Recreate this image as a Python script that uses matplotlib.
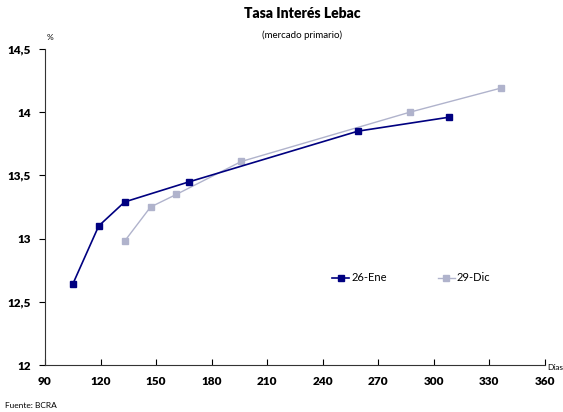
import matplotlib
matplotlib.use("Agg")
import matplotlib.pyplot as plt
from matplotlib.ticker import FuncFormatter

plt.rcParams['font.family'] = ['Lato', 'DejaVu Sans']

ene_days = [105, 119, 133, 168, 259, 308]
ene_rate = [12.64, 13.10, 13.29, 13.45, 13.85, 13.96]
dic_days = [133, 147, 161, 196, 287, 336]
dic_rate = [12.98, 13.25, 13.35, 13.61, 14.00, 14.19]
xticks = [90, 120, 150, 180, 210, 240, 270, 300, 330, 360]
yticks = [12, 12.5, 13, 13.5, 14, 14.5]

fig = plt.figure(figsize=(5.63, 4.12), dpi=100)
ax = fig.add_axes([45/563, 1-365/412, 500/563, (365-49)/412])

ax.plot(ene_days, ene_rate, color='#000080', lw=1.2, marker='s', ms=4.5, label='26-Ene', zorder=3)
ax.plot(dic_days, dic_rate, color='#B0B3CC', lw=1.0, marker='s', ms=4.5, label='29-Dic', zorder=2)

ax.set_xlim(90, 360)
ax.set_ylim(12, 14.5)
ax.set_xticks(xticks)
ax.set_yticks(yticks)
ax.yaxis.set_major_formatter(FuncFormatter(lambda v, p: ('%g' % v).replace('.', ',')))
for s in ['top', 'right']:
    ax.spines[s].set_visible(False)
for s in ['left', 'bottom']:
    ax.spines[s].set_color('#333333')
ax.tick_params(axis='x', direction='in', length=4, labelsize=8.5, pad=8)
ax.tick_params(axis='y', direction='out', length=4, labelsize=8.5, pad=6)
for lab in ax.get_xticklabels() + ax.get_yticklabels():
    lab.set_fontweight('heavy')

leg = ax.legend(loc='upper left', bbox_to_anchor=(283/500, (365-268)/316), ncol=2, frameon=False,
                fontsize=8, handlelength=1.5, handletextpad=0.2, columnspacing=4.6, borderaxespad=0)

fig.text(302/563, 1-14/412, 'Tasa Interés Lebac', ha='center', va='center', fontsize=10, fontweight='heavy')
fig.text(302/563, 1-35/412, '(mercado primario)', ha='center', va='center', fontsize=7)
fig.text(50/563, 1-37/412, '%', ha='center', va='center', fontsize=6)
fig.text(547/563, 1-367/412, 'Días', ha='left', va='center', fontsize=6)
fig.text(5/563, 1-405/412, 'Fuente: BCRA', ha='left', va='center', fontsize=6)

fig.savefig('out.png', dpi=100)
